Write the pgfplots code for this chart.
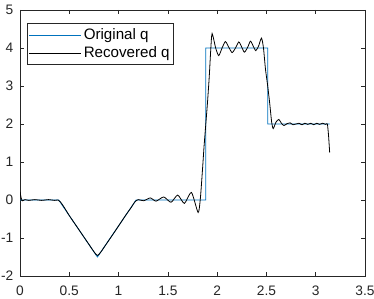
\documentclass[border=0pt]{standalone}
\usepackage{fontspec}
\setmainfont{Liberation Sans}
\usepackage{pgfplots}
\pgfplotsset{compat=1.18}
\definecolor{mblue}{rgb}{0,0.447,0.741}
\definecolor{mgray}{rgb}{0.15,0.15,0.15}
\begin{document}
\begin{tikzpicture}
\begin{axis}[name=ax, scale only axis, width=345bp, height=266bp,
  xmin=0, xmax=3.5, ymin=-2, ymax=5,
  xtick={0,0.5,1,1.5,2,2.5,3,3.5}, ytick={-2,-1,0,1,2,3,4,5},
  xticklabels={0,0.5,1,1.5,2,2.5,3,3.5}, yticklabels={-2,-1,0,1,2,3,4,5},
  tick align=inside, major tick length=4bp, xtick pos=both, ytick pos=both,
  axis line style={mgray, line width=0.6bp}, tick style={mgray, line width=0.6bp},
  ticklabel style={font=\fontsize{13.8}{16}\selectfont, text=mgray},
  xticklabel style={yshift=-6.5bp},
  yticklabel style={xshift=-3.2bp},
  legend style={at={(0,1)}, anchor=north west, xshift=6.7bp, yshift=-13.3bp,
    draw=mgray, line width=0.6bp,
    font=\fontsize{15.2}{18}\selectfont, inner xsep=2bp, inner ysep=3.2bp,
    row sep=1.5bp, cells={anchor=west}},
  legend image code/.code={\draw[#1] (0bp,0bp) -- (52bp,0bp);},
]
\addplot[mblue, line width=0.8bp] coordinates {
(0,0) (0.3927,0) (0.7854,-1.5) (1.1781,0) (1.885,0) (1.885,4) (2.513,4) (2.513,2) (3.1416,2)};
\addlegendentry{Original q}
\addplot[black, line width=0.8bp, smooth, tension=0.4] coordinates {
(0,0.22) (0.012,0.05) (0.025,-0.02) (0.05,0.01) (0.09,-0.01) (0.15,0.01) (0.22,-0.01) (0.29,0.01) (0.35,-0.01) (0.385,0.0)
(0.41,-0.05) (0.45,-0.2) (0.5,-0.41) (0.6,-0.79) (0.7,-1.17) (0.75,-1.36) (0.785,-1.46) (0.82,-1.37) (0.87,-1.18) (0.97,-0.8) (1.07,-0.41) (1.13,-0.19) (1.165,-0.05) (1.2,0.01)
(1.254,-0.02) (1.322,0.055) (1.38,-0.03) (1.458,0.08) (1.532,-0.06) (1.60,0.13) (1.668,-0.09) (1.739,0.2) (1.807,-0.33)
(1.83,0.05) (1.85,0.75) (1.867,1.4) (1.885,2.0) (1.903,2.6) (1.92,3.25) (1.935,3.95) (1.949,4.38)
(1.985,4.0) (2.016,3.8) (2.05,4.0) (2.084,4.17) (2.118,4.02) (2.152,3.88) (2.186,4.0) (2.22,4.16) (2.25,4.02) (2.277,3.89) (2.31,4.02) (2.338,4.18) (2.366,4.05) (2.392,3.93) (2.42,4.05) (2.45,4.26)
(2.47,4.0) (2.49,3.45) (2.513,3.0) (2.535,2.5) (2.553,2.05) (2.569,1.88)
(2.597,2.05) (2.626,2.12) (2.652,2.02) (2.677,1.96) (2.71,2.01) (2.74,2.03) (2.77,1.98) (2.80,2.0) (2.83,2.02) (2.86,1.98) (2.89,2.02) (2.92,1.99) (2.95,2.02) (2.98,1.98) (3.01,2.02) (3.04,1.99) (3.07,2.02) (3.10,1.99) (3.118,2.0) (3.13,1.7) (3.1416,1.25)};
\addlegendentry{Recovered q}
\end{axis}
\pgfresetboundingbox
\path ([shift={(-20bp,-23bp)}]ax.south west) rectangle ([shift={(9bp,10bp)}]ax.north east);
\end{tikzpicture}
\end{document}
